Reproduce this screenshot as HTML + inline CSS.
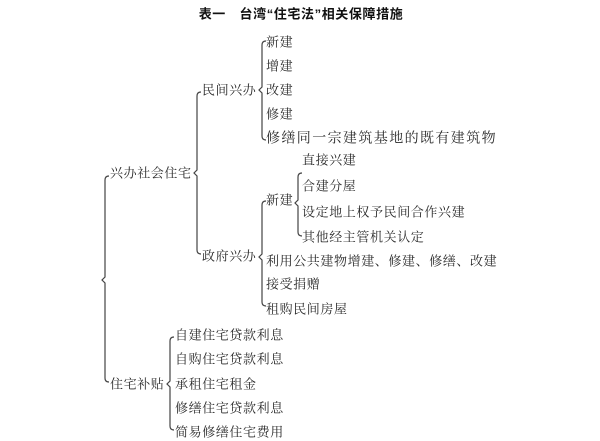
<!DOCTYPE html>
<html><head><meta charset="utf-8"><style>
html,body{margin:0;padding:0;background:#fff;}
svg{display:block;}
text{font-family:"Liberation Serif","Noto Serif CJK SC","Noto Sans CJK SC",serif;font-size:13px;fill:#2a2a2a;letter-spacing:0.6px;dominant-baseline:central;}
.w{font-size:14px;letter-spacing:1.4px;}
.t{font-family:"Liberation Sans","Noto Sans CJK SC",sans-serif;font-weight:bold;font-size:13px;letter-spacing:0.6px;fill:#111;}
path{fill:none;stroke:#444;stroke-width:1.2;}
</style></head><body>
<svg width="600" height="441" viewBox="0 0 600 441">
<text class="t" x="301" y="14" text-anchor="middle">表一　台湾“住宅法”相关保障措施</text>

<path d="M109 176 Q105 176 105 180 L105 277 L102 280 L105 283 L105 378 Q105 382 109 382"/>
<text x="110" y="173">兴办社会住宅</text>
<text x="110" y="384">住宅补贴</text>

<path d="M201 92 Q197 92 197 96 L197 170 L194 173 L197 176 L197 250 Q197 254 201 254"/>
<text x="202" y="90">民间兴办</text>
<text x="202" y="256">政府兴办</text>

<path d="M266 41 Q262 41 262 45 L262 87 L259 90 L262 93 L262 136 Q262 140 266 140"/>
<text x="266" y="42">新建</text>
<text x="266" y="66">增建</text>
<text x="266" y="90">改建</text>
<text x="266" y="114">修建</text>
<text class="w" x="266" y="139">修缮同一宗建筑基地的既有建筑物</text>

<path d="M266 201 Q262 201 262 205 L262 254 L259 257 L262 260 L262 302 Q262 306 266 306"/>
<text x="266" y="200">新建</text>
<text x="266" y="261">利用公共建物增建、修建、修缮、改建</text>
<text x="266" y="284">接受捐赠</text>
<text x="266" y="309">租购民间房屋</text>

<path d="M302 173 Q298 173 298 177 L298 200 L295 203 L298 206 L298 232 Q298 236 302 236"/>
<text x="302" y="160">直接兴建</text>
<text x="302" y="186">合建分屋</text>
<text x="302" y="212">设定地上权予民间合作兴建</text>
<text x="302" y="237">其他经主管机关认定</text>

<path d="M174 337 Q170 337 170 341 L170 381 L167 384 L170 387 L170 426 Q170 430 174 430"/>
<text x="175" y="335">自建住宅贷款利息</text>
<text x="175" y="359">自购住宅贷款利息</text>
<text x="175" y="384">承租住宅租金</text>
<text x="175" y="408">修缮住宅贷款利息</text>
<text x="175" y="432">简易修缮住宅费用</text>
</svg>
</body></html>
